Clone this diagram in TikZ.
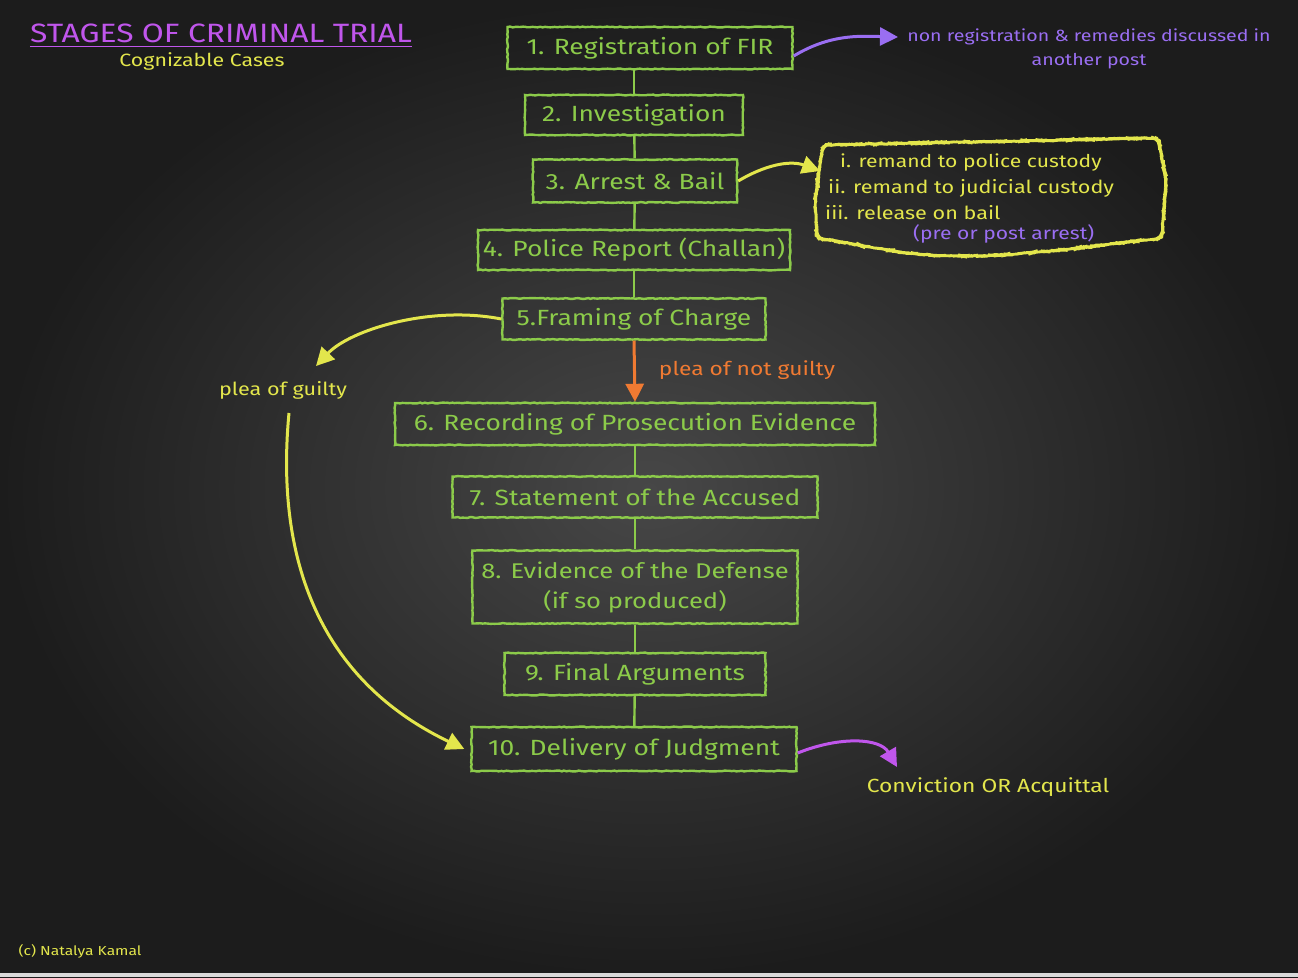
\documentclass[tikz,border=0pt]{standalone}
\usepackage{fontspec}
\setmainfont{Fira Sans}[FakeStretch=1.2]
\usetikzlibrary{arrows.meta,decorations.pathmorphing}
\definecolor{bg}{HTML}{2B2B2B}
\definecolor{bgin}{HTML}{474747}
\definecolor{bgout}{HTML}{1C1C1C}
\definecolor{chalkgreen}{HTML}{8CCB4A}
\definecolor{chalkyellow}{HTML}{E3E64C}
\definecolor{chalkpurple}{HTML}{C056EC}
\definecolor{chalkviolet}{HTML}{9A6EF2}
\definecolor{chalkorange}{HTML}{F07A32}
\tikzset{
  chalk/.style={decorate, decoration={random steps, segment length=2.5pt, amplitude=0.45pt}},
  stage/.style={draw=chalkgreen, line width=2.4pt, text=chalkgreen, chalk,
    font=\fontsize{22}{30}\selectfont, inner sep=0pt, align=center},
  link/.style={draw=chalkgreen, line width=2.4pt},
  label/.style={inner sep=0pt, anchor=center},
}
\begin{document}
\begin{tikzpicture}[x=1pt,y=-1pt]
\useasboundingbox (0,0) rectangle (1298,977);
% background
\shade[inner color=bgin, outer color=bgout] (0,0) rectangle (1298,977);
\fill[white!85!black] (0,973) rectangle (1298,977);

% title
\node[label, text=chalkpurple, font=\fontsize{26.5}{30}\selectfont] (title) at (221,33) {STAGES OF CRIMINAL TRIAL};
\draw[chalkpurple, line width=1.5pt] ([yshift=-4pt]title.south west) -- ([yshift=-4pt]title.south east);
\node[label, text=chalkyellow, font=\fontsize{17.8}{22}\selectfont] (sub) at (202,61) {Cognizable Cases};

% stages
\node[stage, minimum width=285pt, minimum height=42pt] (s1) at (650,48) {1. Registration of FIR};
\node[stage, minimum width=218pt, minimum height=40pt] (s2) at (634,115) {2. Investigation};
\node[stage, minimum width=204pt, minimum height=43pt] (s3) at (635,181) {3. Arrest \& Bail};
\node[stage, minimum width=312pt, minimum height=40pt] (s4) at (634,250) {4. Police Report (Challan)};
\node[stage, minimum width=263pt, minimum height=41pt] (s5) at (634,319) {5.Framing of Charge};
\node[stage, minimum width=480pt, minimum height=42pt] (s6) at (635,424) {6. Recording of Prosecution Evidence};
\node[stage, minimum width=365pt, minimum height=41pt] (s7) at (635,497) {7. Statement of the Accused};
\node[stage, minimum width=325pt, minimum height=73pt, font=\fontsize{21.3}{30}\selectfont] (s8) at (635,587) {8. Evidence of the Defense\\(if so produced)};
\node[stage, minimum width=261pt, minimum height=42pt] (s9) at (635,674) {9. Final Arguments};
\node[stage, minimum width=325pt, minimum height=44pt] (s10) at (634,749) {10. Delivery of Judgment};

% vertical links
\draw[link] (s2.north |- s1.south) -- (s2.north);
\draw[link] (s2) -- (s3);
\draw[link] (s3) -- (s4);
\draw[link] (s4) -- (s5);
\draw[link] (s6) -- (s7);
\draw[link] (s7) -- (s8);
\draw[link] (s8) -- (s9);
\draw[link] (s9) -- (s10);
\draw[chalkorange, line width=3pt, -{Triangle[length=18pt,width=18pt]}] (s5.south) -- (s6.north);
\node[label, text=chalkorange, font=\fontsize{19}{22}\selectfont] (ng) at (747,370) {plea of not guilty};

% FIR note
\coordinate (firtip) at (898,37);
\draw[chalkviolet, line width=3pt, -{Triangle[length=18pt,width=18pt]}] ([yshift=-8pt]s1.east) .. controls (830,34) and (860,36) .. (firtip);
\node[label, text=chalkviolet, font=\fontsize{16.3}{24}\selectfont, align=center] (fir) at (1089,49) {non registration \& remedies discussed in\\another post};

% custody box
\draw[chalkyellow, line width=2.6pt, chalk, rounded corners=6pt]
  (823,145) -- (1158,138) -- (1166,178) -- (1162,238) .. controls (1060,250) and (980,262) .. (900,252) -- (817,238) -- (815,200) -- cycle;
\coordinate (boxtip) at (820,171);
\draw[chalkyellow, line width=3pt, -{Triangle[length=18pt,width=18pt]}] (s3.east) .. controls (765,165) and (790,160) .. (boxtip);
\node[label, anchor=west, text=chalkyellow, font=\fontsize{17.6}{22}\selectfont] (c1) at (840,163) {i. remand to police custody};
\node[label, anchor=west, text=chalkyellow, font=\fontsize{18}{22}\selectfont] (c2) at (828,188) {ii. remand to judicial custody};
\node[label, anchor=west, text=chalkyellow, font=\fontsize{18}{22}\selectfont] (c3) at (825,213) {iii. release on bail};
\node[label, anchor=west, text=chalkviolet, font=\fontsize{17.6}{22}\selectfont] (c4) at (913,234) {(pre or post arrest)};

% plea of guilty
\coordinate (gtip) at (316,366);
\draw[chalkyellow, line width=3pt, -{Triangle[length=18pt,width=18pt]}] (s5.west) .. controls (430,305) and (350,330) .. (gtip);
\node[label, text=chalkyellow, font=\fontsize{18}{21}\selectfont] (pg) at (283,390) {plea of guilty};
\coordinate (gstart) at (289,413);
\draw[chalkyellow, line width=3pt, -{Triangle[length=18pt,width=18pt]}] (gstart) .. controls (275,560) and (320,680) .. ([xshift=-6pt]s10.west);

% verdict
\coordinate (vtip) at (897,767);
\draw[chalkpurple, line width=3pt, -{Triangle[length=18pt,width=18pt]}] ([yshift=-4pt]s10.east) .. controls (840,736) and (880,738) .. (vtip);
\node[label, text=chalkyellow, font=\fontsize{19}{23}\selectfont] (verdict) at (988,787) {Conviction OR Acquittal};

\node[label, text=chalkyellow, font=\fontsize{13}{16}\selectfont] (copy) at (80,951) {(c) Natalya Kamal};
\end{tikzpicture}
\end{document}
